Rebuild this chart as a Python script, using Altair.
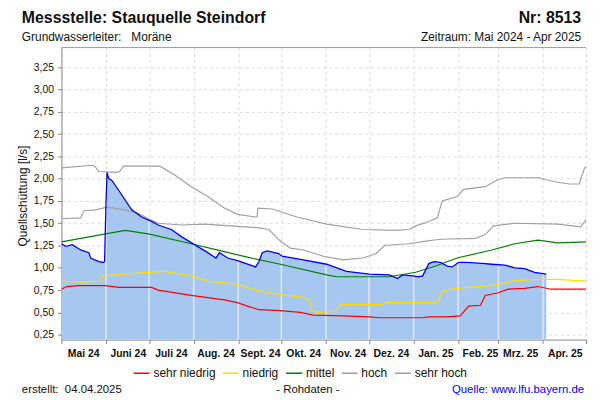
import altair as alt
import pandas as pd
import numpy as np

# ---------------- data ----------------
# x = days since 1 May 2024
month_days = [0, 31, 61, 92, 123, 153, 184, 214, 245, 276, 304, 335, 365]
month_labels = ["Mai 24", "Juni 24", "Juli 24", "Aug. 24", "Sept. 24", "Okt. 24",
                "Nov. 24", "Dez. 24", "Jan. 25", "Feb. 25", "Mrz. 25", "Apr. 25", ""]
y_ticks = [0.25, 0.5, 0.75, 1.0, 1.25, 1.5, 1.75, 2.0, 2.25, 2.5, 2.75, 3.0, 3.25]

legend_labels = ["sehr niedrig", "niedrig", "mittel", "hoch", "sehr hoch"]
legend_colors = ["#ff0000", "#ffdd00", "#008000", "#a0a0a0", "#a0a0a0"]

sehr_hoch_days = [0, 21.4, 23.2, 26, 37.5, 40.5, 43.2, 68.5, 78.8, 90.3, 101.8, 113.3, 122.5,
                  134.9, 136.1, 136.7, 146.6, 163.8, 184.5, 209.8, 232.7, 241.7, 246.5, 255.7,
                  261.5, 264.9, 275.3, 279.8, 294.8, 303.9, 308.5, 332.6, 336.1, 345.3, 353.3,
                  360.2, 363.7, 365]
sehr_hoch_vals = [2.12, 2.15, 2.14, 2.08, 2.07, 2.08, 2.14, 2.14, 2.04, 1.91, 1.80, 1.67, 1.60,
                  1.57, 1.57, 1.67, 1.66, 1.57, 1.49, 1.43, 1.42, 1.43, 1.47, 1.52,
                  1.56, 1.75, 1.80, 1.88, 1.91, 1.99, 2.01, 2.01, 1.99, 1.96, 1.94,
                  1.94, 2.11, 2.14]

hoch_days = [0, 13.4, 15.6, 23.7, 31.7, 44.4, 53.5, 60.4, 67.3, 83.4, 99.5, 117.8, 136.3,
             144.3, 152.3, 159.2, 168.4, 182.2, 196, 209.8, 219, 224.7, 241.9, 253.4, 263.7,
             287.9, 294.8, 300.5, 315.4, 345.3, 361.4, 365]
hoch_vals = [1.55, 1.56, 1.64, 1.65, 1.68, 1.65, 1.61, 1.55, 1.50, 1.48, 1.49, 1.47, 1.45,
             1.43, 1.30, 1.22, 1.20, 1.13, 1.09, 1.11, 1.16, 1.25, 1.27, 1.30, 1.32,
             1.33, 1.37, 1.47, 1.50, 1.49, 1.46, 1.54]

mittel_days = [0, 30.6, 44.4, 60.4, 90.3, 111, 129.3, 152.3, 184.5, 191.4, 228.1, 246.5,
               260.3, 275.3, 299.4, 315.4, 331.5, 345.3, 365]
mittel_vals = [1.29, 1.38, 1.42, 1.38, 1.27, 1.19, 1.12, 1.04, 0.92, 0.90, 0.90, 0.95,
               1.02, 1.11, 1.20, 1.27, 1.31, 1.28, 1.29]

niedrig_days = [0, 14, 27.4, 28.5, 37.5, 52.4, 72, 90.3, 101.8, 120.2, 129.3, 134.9, 152.3,
                168.4, 172.8, 174.4, 177.8, 190, 194.8, 223.6, 225.8, 261.4, 265.6, 274.1,
                299.4, 313.2, 329.2, 345.3, 365]
niedrig_vals = [0.85, 0.84, 0.85, 0.91, 0.92, 0.94, 0.96, 0.91, 0.85, 0.82, 0.78, 0.75, 0.70,
                0.67, 0.63, 0.52, 0.50, 0.51, 0.59, 0.59, 0.61, 0.61, 0.74, 0.77,
                0.80, 0.85, 0.87, 0.87, 0.85]

sehr_niedrig_days = [0, 3.8, 12.2, 30.6, 39.8, 62.8, 67.3, 90.3, 113.3, 122.5, 129.3, 137.6,
                     152.3, 166.1, 175.3, 196, 214.3, 221.2, 251.3, 255.4, 268.4, 277.5,
                     283.3, 291.6, 294.8, 303.9, 310.8, 322.3, 331.5, 340.7, 365]
sehr_niedrig_vals = [0.76, 0.79, 0.80, 0.80, 0.78, 0.78, 0.75, 0.69, 0.64, 0.61, 0.57, 0.53,
                     0.52, 0.50, 0.47, 0.46, 0.45, 0.44, 0.44, 0.45, 0.45, 0.46,
                     0.57, 0.58, 0.69, 0.72, 0.76, 0.77, 0.79, 0.76, 0.76]

mess_days = [0, 3, 7.6, 13.4, 19.1, 20.3, 26, 28.9, 30, 31, 31.7, 32.9, 35.1, 39.8, 48.9,
             55.8, 62.7, 67.3, 76.5, 83.4, 92.6, 101.8, 107.5, 109.9, 115.6, 122.5, 135.1,
             137.4, 139.7, 143.1, 151.2, 153.5, 168.4, 184.5, 198.3, 214.3, 228.1, 233.9,
             237.2, 244.4, 248.3, 251.3, 255.7, 259.4, 263.7, 268.4, 271.8, 276.3, 282.2,
             292.5, 299.4, 308.5, 315.4, 322.3, 329.2, 337.3]
mess_vals = [1.27, 1.24, 1.26, 1.20, 1.17, 1.11, 1.07, 1.06, 1.07, 1.73, 2.07, 2.00, 1.98,
             1.87, 1.65, 1.57, 1.52, 1.48, 1.43, 1.35, 1.26, 1.17, 1.11, 1.17, 1.11, 1.08,
             1.01, 1.07, 1.17, 1.19, 1.16, 1.13, 1.09, 1.04, 0.96, 0.93, 0.92, 0.88,
             0.92, 0.91, 0.90, 0.91, 1.05, 1.07, 1.06, 1.02, 1.01, 1.06, 1.06,
             1.05, 1.04, 1.03, 1.00, 0.99, 0.95, 0.93]

# ---------------- layout / styles ----------------
W, H = 530, 295
Y_MIN, Y_MAX = 0.195, 3.47
FONT = "Liberation Sans"

series = [
    ("sehr niedrig", sehr_niedrig_days, sehr_niedrig_vals),
    ("niedrig", niedrig_days, niedrig_vals),
    ("mittel", mittel_days, mittel_vals),
    ("hoch", hoch_days, hoch_vals),
    ("sehr hoch", sehr_hoch_days, sehr_hoch_vals),
]
lines_df = pd.concat(
    [pd.DataFrame({"day": d, "value": v, "series": n, "order": range(len(d))}) for n, d, v in series],
    ignore_index=True,
)
mess_df = pd.DataFrame({"day": mess_days, "value": mess_vals})

inner_days = [d for d in month_days[1:-1] if d <= max(mess_days)]
grid_df = pd.DataFrame({
    "day": inner_days,
    "value": np.interp(inner_days, mess_days, mess_vals),
    "base": Y_MIN,
})

label_js = "[" + ",".join("'" + l + "'" for l in month_labels) + "]"
days_js = "[" + ",".join(str(d) for d in month_days) + "]"

x_scale = alt.Scale(domain=[0, 365], nice=False, zero=False)
y_scale = alt.Scale(domain=[Y_MIN, Y_MAX], nice=False, zero=False)

x_enc = alt.X(
    "day:Q", scale=x_scale, title=None,
    axis=alt.Axis(
        values=month_days, tickCount=len(month_days),
        labelExpr=f"{label_js}[indexof({days_js}, datum.value)]",
        labelOffset=22, labelFontWeight="bold", labelFontSize=10.5, labelColor="#111",
        labelFont=FONT, tickSize=4, tickColor="#888", domainColor="#888", labelPadding=5,
        grid=True, gridColor="#dcdcdc", gridDash=[3, 3], labelFlush=False, labelOverlap=False,
    ),
)
y_enc = alt.Y(
    "value:Q", scale=y_scale, title=None,
    axis=alt.Axis(
        values=y_ticks, tickCount=len(y_ticks),
        labelExpr="replace(format(datum.value, '.2f'), '.', ',')",
        labelFontSize=10.5, labelColor="#111", labelFont=FONT, tickSize=4, tickColor="#888",
        domainColor="#888", labelPadding=4, grid=True, gridColor="#dcdcdc", gridDash=[3, 3],
        labelOverlap=False, labelFlush=False,
    ),
)

area = alt.Chart(mess_df).mark_area(color="#a6c8f0", clip=True).encode(x=x_enc, y=y_enc)

vgrid = alt.Chart(grid_df).mark_rule(color="#e4e8ee", strokeWidth=1.5).encode(
    x="day:Q", y="value:Q", y2="base:Q"
)

lines = alt.Chart(lines_df).mark_line(strokeWidth=1.2, clip=True).encode(
    x="day:Q", y="value:Q", order="order:Q",
    color=alt.Color(
        "series:N",
        scale=alt.Scale(domain=legend_labels, range=legend_colors),
        legend=alt.Legend(
            orient="none", legendX=72, legendY=320, direction="horizontal", title=None,
            symbolType="stroke", symbolSize=256, symbolStrokeWidth=1.5, labelFontSize=12,
            labelFont=FONT, labelColor="#111", labelOffset=3, columnPadding=4, padding=0,
        ),
    ),
)

mess_line = alt.Chart(mess_df).mark_line(color="#0000ff", strokeWidth=1.3, clip=True).encode(
    x="day:Q", y="value:Q"
)

one = pd.DataFrame({"a": [0]})


def txt(text, x, y, size=12, weight="normal", align="left", color="#111", angle=0):
    return alt.Chart(one).mark_text(
        text=text, align=align, baseline="middle", fontSize=size, fontWeight=weight,
        font=FONT, color=color, angle=angle,
    ).encode(x=alt.value(x), y=alt.value(y))


top_border = alt.Chart(one).mark_rule(color="#999999").encode(
    x=alt.value(0), x2=alt.value(W), y=alt.value(0)
)

texts = [
    txt("Messstelle: Stauquelle Steindorf", -40, -30, size=16, weight="bold"),
    txt("Nr: 8513", 525, -30, size=16, weight="bold", align="right"),
    txt("Grundwasserleiter:\u00a0\u00a0\u00a0Moräne", -40, -11, size=12),
    txt("Zeitraum: Mai 2024 - Apr 2025", 525, -11, size=12, align="right"),
    txt("Quellschüttung [l/s]", -39, 150, size=12, angle=270, align="center"),
    txt("erstellt:\u00a0\u00a004.04.2025", -40, 345.5, size=11.5),
    txt("- Rohdaten -", 249, 345.5, size=11.5, align="center"),
    txt("Quelle: www.lfu.bayern.de", 528, 345.5, size=11.5, align="right", color="#0000ff"),
]

chart = alt.layer(area, vgrid, lines, mess_line, top_border, *texts).properties(
    width=W, height=H,
    autosize=alt.AutoSizeParams(type="none"),
    padding={"left": 54, "top": 38, "right": 6, "bottom": 55},
    background="white",
).configure_view(stroke=None)

chart.save("out.html", embed_options={"renderer": "svg", "actions": False})
